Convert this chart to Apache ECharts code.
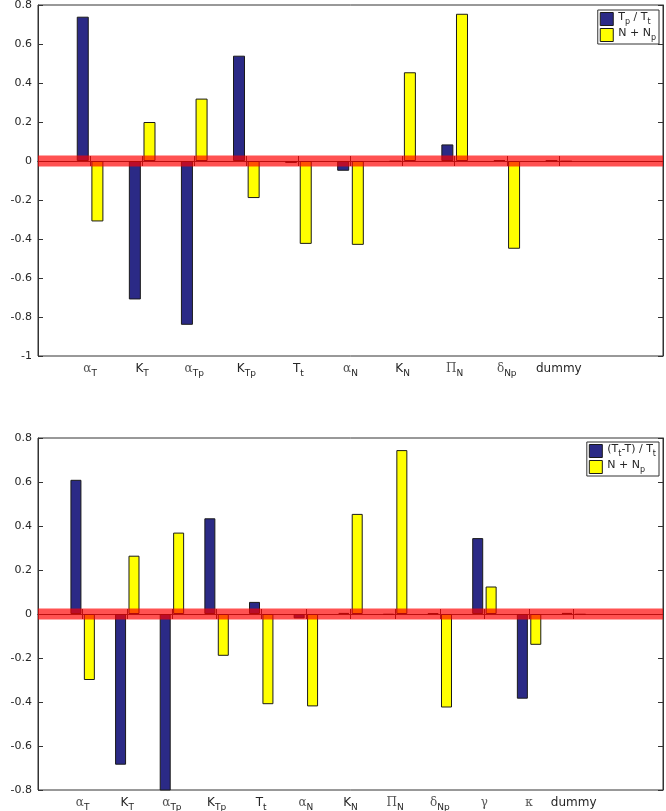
<!DOCTYPE html>
<html>
<head>
<meta charset="utf-8">
<script src="https://cdn.jsdelivr.net/npm/echarts@6/dist/echarts.min.js"></script>
<style>
  html, body { margin: 0; padding: 0; background: #fff; }
  #main { width: 666px; height: 811px; }
</style>
</head>
<body>
<div id="main"></div>
<script>
// 参数名（下划线后面是下标）
var cats1 = ['α_T', 'K_T', 'α_Tp', 'K_Tp', 'T_t', 'α_N', 'K_N', 'Π_N', 'δ_Np', 'dummy'];
var cats2 = ['α_T', 'K_T', 'α_Tp', 'K_Tp', 'T_t', 'α_N', 'K_N', 'Π_N', 'δ_Np', 'γ', 'κ', 'dummy'];

// 上图 PRCC
var ratio1 = [0.74, -0.71, -0.84, 0.54, -0.01, -0.05, -0.003, 0.085, 0.005, 0.003];
var nsum1 = [-0.31, 0.20, 0.32, -0.19, -0.425, -0.43, 0.455, 0.755, -0.45, -0.003];

// 下图 PRCC
var ratio2 = [0.61, -0.685, -0.82, 0.435, 0.055, -0.02, 0.005, -0.003, 0.003, 0.345, -0.385, 0.005];
var nsum2 = [-0.30, 0.265, 0.37, -0.19, -0.41, -0.42, 0.455, 0.745, -0.425, 0.125, -0.14, -0.003];

var yTicks1 = [-1, 0.8, 0.2];   // min, max, step
var yTicks2 = [-0.8, 0.8, 0.2];

var name1 = 'T_p / T_t';
var name2 = '(T_t-T) / T_t';
var nameN = 'N + N_p';

var chart = echarts.init(document.getElementById('main'));

var FONT = 'DejaVu Sans';
var TXT = '#262626';
var BLUE = '#2b2a86';
var YELLOW = '#ffff00';

// 把 "α_Tp" 之类转换为富文本
function toRich(v) {
  if (!v) return '';
  return v.split(/(_\w+)/).filter(function (p) { return p; }).map(function (p) {
    if (p[0] === '_') return '{s|' + p.slice(1) + '}';
    return (/[α-ωΑ-Ω]/.test(p) ? '{g|' : '{n|') + p + '}';
  }).join('');
}

var rich = {
  n: { fontFamily: FONT, fontSize: 12, color: TXT, padding: [0, 0, 3, 0], verticalAlign: 'bottom' },
  g: { fontFamily: 'DejaVu Serif', fontSize: 12, color: '#555', padding: [0, 0, 3, 0], verticalAlign: 'bottom' },
  s: { fontFamily: FONT, fontSize: 9, color: TXT, verticalAlign: 'bottom' }
};
var richLegend = {
  n: { fontFamily: FONT, fontSize: 11, color: TXT, padding: [0, 0, 3, 0], verticalAlign: 'bottom' },
  s: { fontFamily: FONT, fontSize: 8, color: TXT, verticalAlign: 'bottom' }
};

// 前面补一个空位，后面补两个（xlim 从 0 开始）
function padCats(c, tail) {
  var r = [''].concat(c);
  for (var i = 0; i < tail; i++) r.push('');
  return r;
}
function padVals(v, tail) {
  var r = ['-'].concat(v);
  for (var i = 0; i < tail; i++) r.push('-');
  return r;
}

var xc1 = padCats(cats1, 2);
var xc2 = padCats(cats2, 2);

function tickShow(idx, val) { return val !== ''; }

function xAxes(data, grid) {
  return [{
    type: 'category', gridIndex: grid, data: data, boundaryGap: false,
    axisLine: { lineStyle: { color: '#333' } },
    axisTick: { inside: true, length: 5, interval: tickShow, lineStyle: { color: '#333' } },
    axisLabel: { interval: 0, formatter: toRich, rich: rich, margin: 7 }
  }, {
    type: 'category', gridIndex: grid, data: data, boundaryGap: false, position: 'top',
    axisLine: { show: true, lineStyle: { color: '#333' } },
    axisTick: { show: true, inside: true, length: 5, interval: tickShow, lineStyle: { color: '#333' } },
    axisLabel: { show: false }
  }];
}

function yAxes(t, grid) {
  return [{
    type: 'value', gridIndex: grid, min: t[0], max: t[1], interval: t[2],
    name: 'PRCC', nameLocation: 'middle', nameGap: 27,
    nameTextStyle: { fontFamily: FONT, fontSize: 12, color: TXT },
    axisLine: { show: true, lineStyle: { color: '#333' } },
    axisTick: { show: true, inside: true, length: 5, lineStyle: { color: '#333' } },
    axisLabel: { fontFamily: FONT, fontSize: 11, color: TXT, margin: 6 },
    splitLine: { show: false }
  }, {
    type: 'value', gridIndex: grid, min: t[0], max: t[1], interval: t[2], position: 'right',
    axisLine: { show: true, lineStyle: { color: '#333' } },
    axisTick: { show: true, inside: true, length: 5, lineStyle: { color: '#333' } },
    axisLabel: { show: false },
    splitLine: { show: false }
  }];
}

function bar(name, vals, color, xi, yi, w) {
  return {
    name: name, type: 'bar', xAxisIndex: xi, yAxisIndex: yi,
    data: padVals(vals, 2), barWidth: w, barGap: '22%',
    itemStyle: { color: color, borderColor: '#1a1a1a', borderWidth: 1 }
  };
}

// 零线红带画在副坐标轴上（与主轴刻度一致），这样上、右边框也会画出来
function zeroBand(n, xi, yi) {
  var d = [];
  for (var i = 0; i < n; i++) d.push(0);
  return {
    name: 'zero', type: 'line', xAxisIndex: xi, yAxisIndex: yi, data: d,
    symbol: 'none', silent: true, z: 5,
    lineStyle: { color: 'rgba(255,0,0,0.68)', width: 11 }
  };
}

function legend(names, top) {
  return {
    data: names, orient: 'vertical', right: 7, top: top,
    formatter: toRich,
    textStyle: { rich: richLegend },
    icon: 'rect', itemWidth: 13, itemHeight: 13, itemGap: 2,
    itemStyle: { borderColor: '#1a1a1a', borderWidth: 1 },
    borderColor: '#333', borderWidth: 1, padding: [2, 3, 2, 2],
    backgroundColor: '#fff'
  };
}

var option = {
  animation: false,
  backgroundColor: '#fff',
  grid: [
    { left: 38, right: 3, top: 5, height: 351, containLabel: false, outerBoundsMode: 'none',
      show: true, borderColor: '#333', borderWidth: 1 },
    { left: 38, right: 3, top: 438, height: 352, containLabel: false, outerBoundsMode: 'none',
      show: true, borderColor: '#333', borderWidth: 1 }
  ],
  legend: [legend([name1, nameN], 10), legend([name2, nameN], 442)],
  xAxis: xAxes(xc1, 0).concat(xAxes(xc2, 1)),
  yAxis: yAxes(yTicks1, 0).concat(yAxes(yTicks2, 1)),
  series: [
    bar(name1, ratio1, BLUE, 0, 0, 12),
    bar(nameN, nsum1, YELLOW, 0, 0, 12),
    zeroBand(xc1.length, 1, 1),
    bar(name2, ratio2, BLUE, 2, 2, 11),
    bar(nameN, nsum2, YELLOW, 2, 2, 11),
    zeroBand(xc2.length, 3, 3)
  ]
};
chart.setOption(option);
</script>
</body>
</html>
